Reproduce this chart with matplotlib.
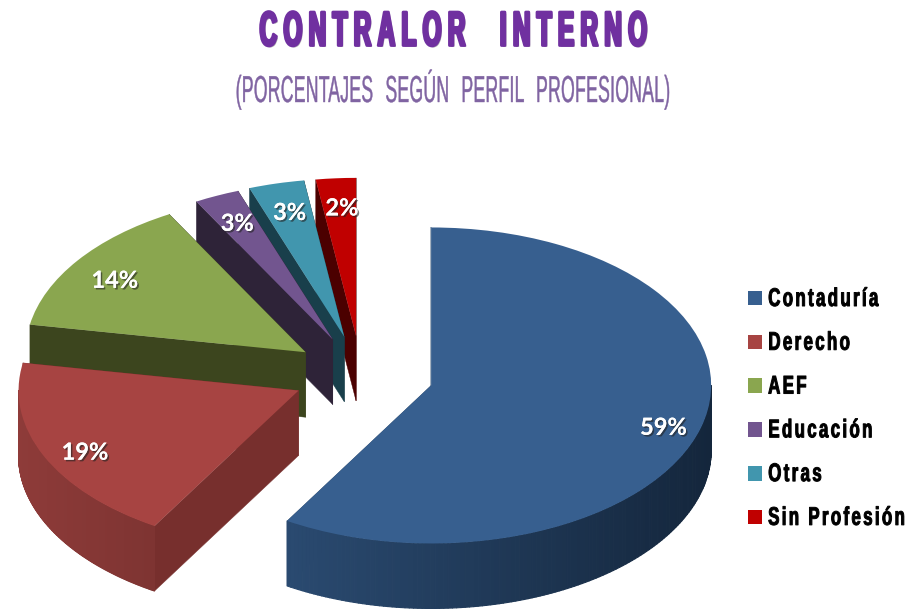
import numpy as np
import matplotlib
matplotlib.use("Agg")
import matplotlib.pyplot as plt
import matplotlib.patheffects as pe
from matplotlib.collections import PolyCollection
from matplotlib.colors import to_rgb
from matplotlib.path import Path
from matplotlib.transforms import Affine2D

categories = ["Contaduría", "Derecho", "AEF", "Educación", "Otras", "Sin Profesión"]
values = [58.6, 19.2, 14.1, 2.6, 3.2, 2.3]
explode = [0.26, 0.245, 0.243, 0.243, 0.246, 0.245]
top_colors = ["#375F8F", "#A74442", "#8AA64F", "#72558F", "#4196AE", "#C00000"]
radial_colors = ["#284669", "#772F2D", "#3C451E", "#2E2338", "#193F4B", "#4B0000"]
rim_left = ["#2A4A70", "#8E3B39", "#3C451E", "#2E2338", "#193F4B", "#4B0000"]
rim_right = ["#14263C", "#7E3432", "#3C451E", "#2E2338", "#193F4B", "#4B0000"]

title = "CONTRALOR  INTERNO"
subtitle = "(PORCENTAJES SEGÚN PERFIL PROFESIONAL)"

W, H = 918, 609
RX, RY = 280.0, 158.0      # pixels per pie radius
CX, CY = 361.0, 374.5      # pixel position of the undisplaced pie centre
DEPTH = 65.0 / RY          # extrusion, in data units
SANS = ["Liberation Sans", "DejaVu Sans"]


class Condensed(pe.AbstractPathEffect):
    """Draws text narrower and letter-spaced: no condensed font is installed."""

    def __init__(self, sx, sy=1.0, pad=0.0, word_pad=0.0, anchor="center",
                 shadow=None, off=(1.5, -1.5), bold=0.0):
        super().__init__()
        self.sx, self.sy, self.pad, self.word_pad = sx, sy, pad, word_pad
        self.anchor, self.shadow, self.off, self.bold = anchor, shadow, off, bold

    def _remap(self, tpath):
        v, c = tpath.vertices.copy(), tpath.codes
        starts = np.flatnonzero(c == Path.MOVETO)
        ends = np.append(starts[1:], len(v))
        ext = []
        for s, e in zip(starts, ends):
            keep = c[s:e] != Path.CLOSEPOLY
            xs = v[s:e, 0][keep]
            ext.append([xs.min(), xs.max(), s, e])
        ext.sort(key=lambda r: r[0])
        groups = []
        for lo, hi, s, e in ext:
            if groups and lo < groups[-1][1]:
                groups[-1][1] = max(groups[-1][1], hi)
                groups[-1][2].append((s, e))
            else:
                groups.append([lo, hi, [(s, e)]])
        out = v.copy()
        pen = groups[0][0]
        old_left, old_right = groups[0][0], groups[-1][1]
        prev_hi = None
        for lo, hi, parts in groups:
            if prev_hi is not None:
                gap = lo - prev_hi
                pen += gap * self.sx + self.pad + (self.word_pad if gap > 24 else 0)
            for s, e in parts:
                out[s:e, 0] = pen + (v[s:e, 0] - lo) * self.sx
            pen += (hi - lo) * self.sx
            prev_hi = hi
        if self.anchor == "center":
            out[:, 0] += (old_left + old_right) / 2 - (groups[0][0] + pen) / 2
        out[:, 1] = v[:, 1] * self.sy
        return Path(out, c)

    def draw_path(self, renderer, gc, tpath, affine, rgbFace=None):
        path = self._remap(tpath)
        if self.shadow is not None:
            renderer.draw_path(gc, path, affine + Affine2D().translate(*self.off), to_rgb(self.shadow))
        gc0 = renderer.new_gc()
        gc0.copy_properties(gc)
        if self.bold > 0:
            gc0.set_foreground(rgbFace)
            gc0.set_linewidth(self.bold)
        renderer.draw_path(gc0, path, affine, rgbFace)
        gc0.restore()


fig = plt.figure(figsize=(W / 100, H / 100), dpi=100, facecolor="white")
ax = fig.add_axes([0, 0, 1, 1])

wedges, _, autotexts = ax.pie(
    values, explode=explode, colors=top_colors, startangle=90, counterclock=False,
    autopct="%.0f%%", pctdistance=0.85,
    wedgeprops=dict(linewidth=0),
    textprops=dict(color="white", fontsize=17, fontweight="bold", family="Lato"),
)
ax.set_aspect("auto")
ax.set_xlim(-CX / RX, (W - CX) / RX)
ax.set_ylim((CY - H) / RY, CY / RY)
ax.axis("off")

n = len(wedges)
for i, w in enumerate(wedges):
    z = 2 * (n - i)
    w.set_zorder(z + 1)
    cx, cy = w.center
    t1, t2 = np.radians(w.theta1), np.radians(w.theta2)
    for t in (t1, t2):
        ex, ey = cx + np.cos(t), cy + np.sin(t)
        ax.fill([cx, ex, ex, cx], [cy, ey, ey - DEPTH, cy - DEPTH],
                color=radial_colors[i], lw=0.3, zorder=z)
    th = np.linspace(t1, t2, 240)
    th = th[np.sin(th) <= 0]
    if th.size > 1:
        xs, ys = cx + np.cos(th), cy + np.sin(th)
        quads = [[(xs[k], ys[k]), (xs[k + 1], ys[k + 1]),
                  (xs[k + 1], ys[k + 1] - DEPTH), (xs[k], ys[k] - DEPTH)]
                 for k in range(th.size - 1)]
        f = (xs[:-1] - xs.min()) / (xs.max() - xs.min())
        a, b = np.array(to_rgb(rim_left[i])), np.array(to_rgb(rim_right[i]))
        cols = a[None, :] * (1 - f[:, None]) + b[None, :] * f[:, None]
        ax.add_collection(PolyCollection(quads, facecolors=cols, edgecolors=cols,
                                         linewidths=0.8, zorder=z + 0.5))

for t in autotexts:
    t.set_zorder(50)
    px, py = t.get_position()
    t.set_position((px + 3 / RX, py - 6 / RY))
    t.set_path_effects([
        pe.withSimplePatchShadow(offset=(1.2, -1.2), shadow_rgbFace="#222222", alpha=0.6),
        pe.Normal(),
    ])

fig.text(453 / W, 1 - 33 / H, title, ha="center", va="center", color="#7030A0",
         fontsize=35, fontweight="bold", family=SANS,
         path_effects=[Condensed(sx=0.5, pad=13, word_pad=30, shadow="#B0B0B0", bold=2.0)])
fig.text(453 / W, 1 - 89 / H, subtitle, ha="center", va="center", color="#8064A2",
         fontsize=27, family=SANS,
         path_effects=[Condensed(sx=0.47, pad=0.7, word_pad=19, bold=0.3)])

leg = fig.legend(
    handles=wedges, labels=categories, loc="upper left",
    bbox_to_anchor=(748 / W, 1 - 290 / H), frameon=False,
    prop=dict(family=SANS, weight="bold", size=16),
    handlelength=0.63, handleheight=0.63, handletextpad=0.27, labelspacing=1.025,
    borderpad=0, borderaxespad=0,
)
for t in leg.get_texts():
    t.set_path_effects([Condensed(sx=0.76, sy=1.15, pad=10.5, word_pad=10, anchor="left", bold=0.7)])

fig.savefig("out.png", dpi=100, facecolor="white")
